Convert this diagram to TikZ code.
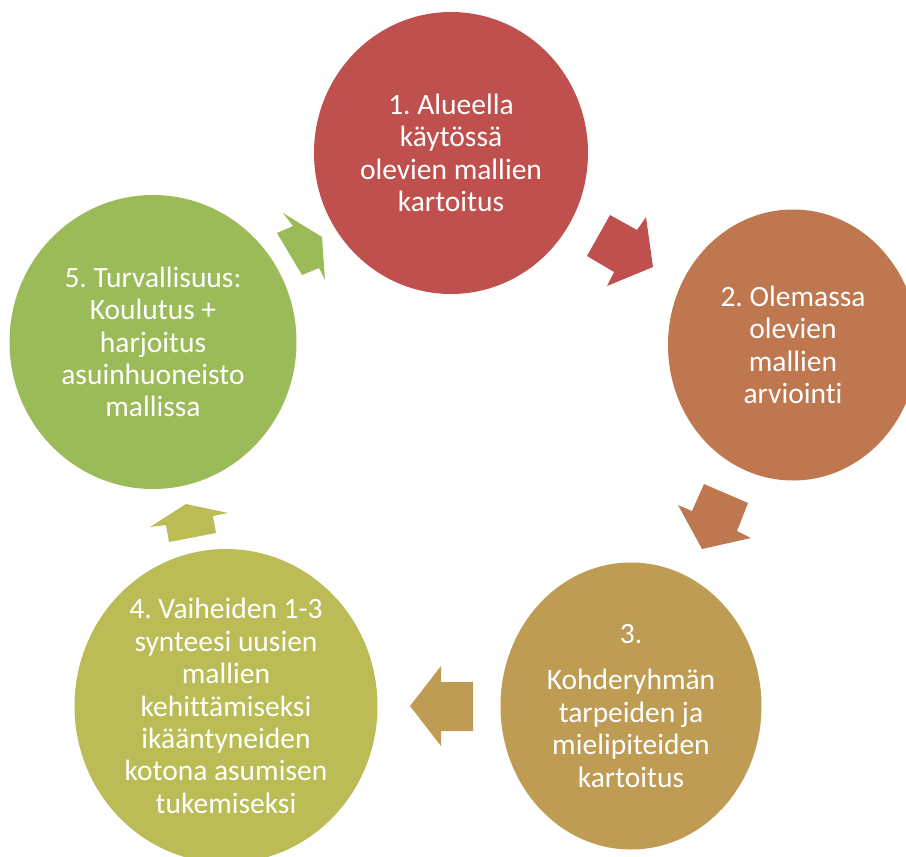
\documentclass[tikz,border=0pt]{standalone}
\usepackage{fontspec}
\setmainfont{Carlito}[Ligatures=NoCommon]
\usetikzlibrary{shapes.geometric}
\definecolor{vaihe1}{RGB}{192,80,77}
\definecolor{vaihe2}{RGB}{191,119,79}
\definecolor{vaihe3}{RGB}{190,156,83}
\definecolor{vaihe4}{RGB}{188,188,86}
\definecolor{vaihe5}{RGB}{155,187,89}
\frenchspacing
\tikzset{every node/.style={inner sep=0pt,outer sep=0pt}}

\begin{document}
\begin{tikzpicture}[x=1pt,y=-1pt]
\useasboundingbox (0,0) rectangle (906,857);

\tikzstyle{pallo}=[shape=ellipse,draw=none]
\tikzstyle{teksti}=[text=white,align=center,font=\fontsize{29.5}{32.4}\selectfont]

\node[pallo,fill=vaihe1,minimum width=274pt,minimum height=282pt] (p1) at (451,153) {};
\node[pallo,fill=vaihe2,minimum width=250pt,minimum height=271pt] (p2) at (793,345) {};
\node[pallo,fill=vaihe3,minimum width=261pt,minimum height=287pt] (p3) at (631,706) {};
\node[pallo,fill=vaihe4,minimum width=303pt,minimum height=314pt] (p4) at (226,706) {};
\node[pallo,fill=vaihe5,minimum width=287pt,minimum height=294pt] (p5) at (153,342) {};

\node[teksti] (t1) at (p1) {1. Alueella\\käytössä\\olevien mallien\\kartoitus};
\node[teksti] (t2) at (p2) {2. Olemassa\\olevien\\mallien\\arviointi};
\node[teksti] (t3) at (p3) {3.\\[13.6pt]Kohderyhmän\\tarpeiden ja\\mielipiteiden\\kartoitus};
\node[teksti] (t4) at (p4) {4. Vaiheiden 1-3\\synteesi uusien\\mallien\\kehittämiseksi\\ikääntyneiden\\kotona asumisen\\tukemiseksi};
\node[teksti] (t5) at (p5) {5. Turvallisuus:\\Koulutus +\\harjoitus\\asuinhuoneisto\\mallissa};

% 1 -> 2
\fill[vaihe1] (610,215) -- (637,230) -- (646,217) -- (653,267) -- (607,286) -- (614,272) -- (587,256) -- cycle;
% 2 -> 3
\fill[vaihe2] (704,484) -- (748,503) -- (737,531) -- (751,538) -- (702,549) -- (678,505) -- (692,511) -- cycle;
% 3 -> 4
\fill[vaihe3] (410,706) -- (441,666) -- (441,682) -- (473,682) -- (473,731) -- (441,731) -- (441,746) -- cycle;
% 4 -> 5
\fill[vaihe4] (186,504) -- (228,513) -- (213,516) -- (216,533) -- (169,542) -- (166,525) -- (150,527) -- cycle;
% 5 -> 1
\fill[vaihe5] (283,213) -- (293,226) -- (277,233) -- (302,275) -- (319,268) -- (325,280) -- (322,237) -- cycle;

\end{tikzpicture}
\end{document}
